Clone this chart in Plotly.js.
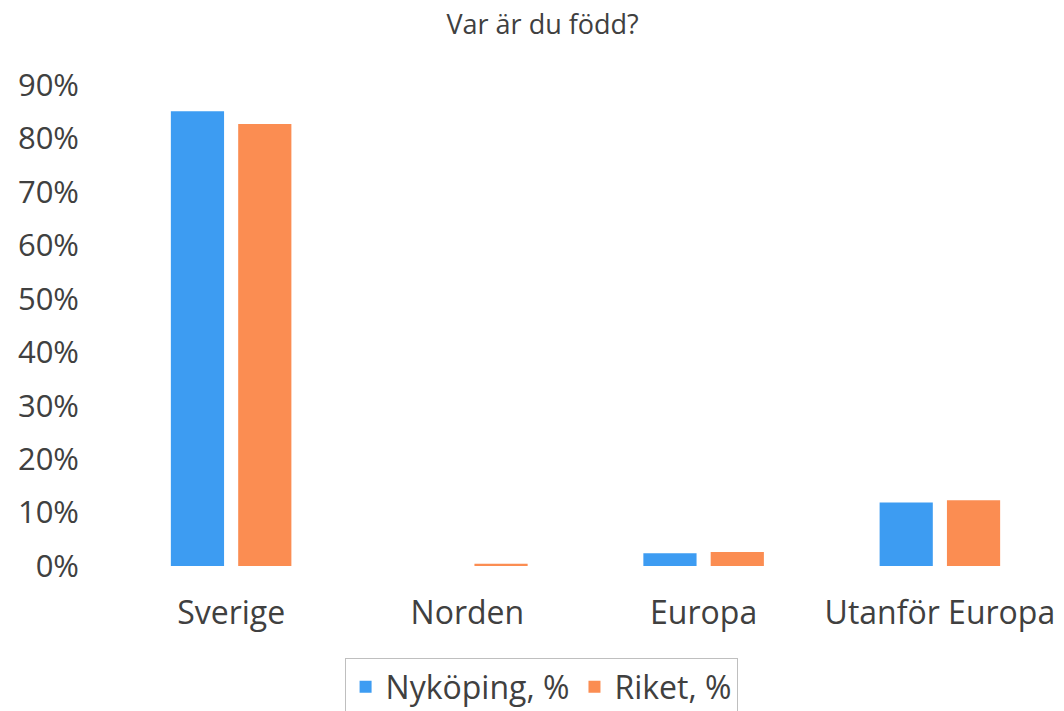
<!DOCTYPE html>
<html>
<head>
<meta charset="utf-8">
<script src="https://cdn.plot.ly/plotly-3.0.1.min.js"></script>
<style>html,body{margin:0;padding:0;background:#fff;}#chart{width:1064px;height:711px;}</style>
</head>
<body>
<div id="chart"></div>
<script>
const categories = ["Sverige", "Norden", "Europa", "Utanför Europa"];
const nykoping = [0.851, 0.0, 0.024, 0.119];
const riket = [0.827, 0.004, 0.026, 0.123];
const seriesNames = ["Nyköping, %", "Riket, %"];
const tickVals = [0, 0.1, 0.2, 0.3, 0.4, 0.5, 0.6, 0.7, 0.8, 0.9];
const tickText = ["0%", "10%", "20%", "30%", "40%", "50%", "60%", "70%", "80%", "90%"];

const font = "'Open Sans', Lato, 'DejaVu Sans', sans-serif";
const data = [
  {type: "bar", x: categories, y: nykoping, name: seriesNames[0], marker: {color: "#3d9cf2"}},
  {type: "bar", x: categories, y: riket, name: seriesNames[1], marker: {color: "#fb8d52"}}
];
const layout = {
  width: 1064, height: 711,
  margin: {l: 113, r: 6, t: 85, b: 145, autoexpand: false},
  paper_bgcolor: "#fff", plot_bgcolor: "#fff",
  font: {family: font, color: "#404040"},
  title: {text: "Var är du född?", font: {size: 27, color: "#404040", family: font}, x: 0.51, xanchor: "center", y: 0.965, yanchor: "middle"},
  barmode: "group", bargap: 0.43, bargroupgap: 0.21,
  xaxis: {automargin: false, showgrid: false, zeroline: false, showline: false, ticks: "", tickfont: {size: 32, color: "#404040"}, ticklabelstandoff: 25},
  yaxis: {automargin: false, range: [0, 0.9], tickvals: tickVals, ticktext: tickText, showgrid: false, zeroline: false, showline: false, ticks: "", tickfont: {size: 31, color: "#404040"}, ticklabelstandoff: 33},
  showlegend: true,
  legend: {orientation: "h", x: 0.453, xanchor: "center", y: -0.192, yanchor: "top", font: {size: 32, color: "#404040"}, bordercolor: "#bfbfbf", borderwidth: 1, itemwidth: 30, traceorder: "normal"}
};
Plotly.newPlot("chart", data, layout, {displayModeBar: false, staticPlot: true});
</script>
</body>
</html>
